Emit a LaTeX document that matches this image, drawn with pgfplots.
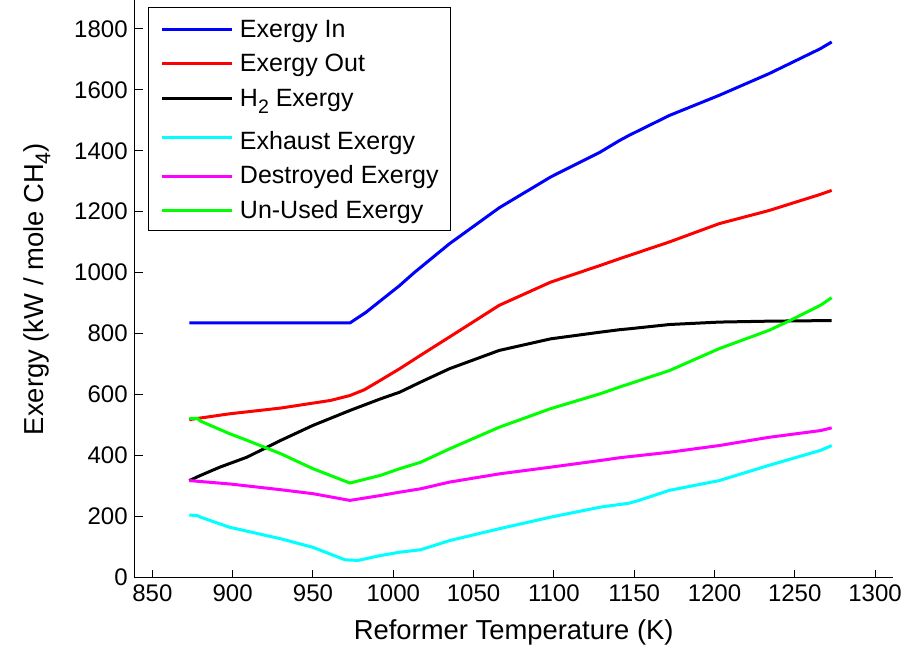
\documentclass[border=0pt]{standalone}
\usepackage{fontspec}
\setmainfont{Liberation Sans}
\usepackage{pgfplots}
\pgfplotsset{compat=1.18}

% subscript set lower and larger, as in the plotting tool's own labels
\newcommand{\lowsub}[1]{\raisebox{-0.5ex}{\fontsize{0.78\dimexpr\fontdimen6\font\relax}{10}\selectfont #1}}

% Exergy balance of the reformer versus temperature (K)
\pgfplotstableread{
T     val
873   835
973   835
983   870
1004  958
1013  1000
1035  1095
1066  1213
1098  1314
1129  1396
1141  1434
1147  1451
1172  1516
1203  1582
1234  1653
1266  1735
1273  1757
}\exin

\pgfplotstableread{
T     val
873   518
898   537
930   556
961   581
973   597
982   616
992   647
1004  685
1017  729
1035  789
1066  893
1098  969
1129  1024
1141  1046
1172  1101
1203  1161
1234  1204
1266  1257
1273  1270
}\exout

\pgfplotstableread{
T     val
873   318
880   335
892   362
909   395
930   450
950   499
973   548
992   586
1004  608
1017  641
1035  685
1066  745
1098  783
1129  805
1141  813
1147  816
1172  830
1203  838
1234  841
1273  843
}\hydrogen

\pgfplotstableread{
T     val
873   205
878   203
880   198
898   165
930   127
950   99
970   58
978   56
992   72
1004  83
1017  91
1035  121
1066  160
1098  198
1129  231
1147  244
1153  253
1172  286
1203  318
1234  368
1266  417
1273  433
}\exhaust

\pgfplotstableread{
T     val
873   318
898   307
930   288
950   275
973   253
992   269
1004  280
1017  291
1035  313
1066  340
1098  362
1129  384
1141  393
1172  411
1203  433
1234  460
1266  482
1273  491
}\destroyed

\pgfplotstableread{
T     val
873   522
878   522
880   513
898   472
909   450
930   406
950   357
973   310
992   335
1004  357
1017  378
1035  422
1066  493
1098  554
1129  603
1141  625
1172  679
1203  751
1234  811
1247  843
1266  893
1273  918
}\unused

\begin{document}
\begin{tikzpicture}
\begin{axis}[
  scale only axis,
  width=379pt, height=288.5pt,
  xmin=839, xmax=1311, ymin=0, ymax=1893,
  axis x line=bottom, axis y line=left,
  axis line style={-, line width=0.5pt, black},
  xtick={850,900,...,1300}, ytick={0,200,...,1800},
  tick align=inside, major tick length=4pt,
  tick style={line width=0.5pt, black},
  minor tick num=0,
  tick label style={font=\fontsize{12}{14}\selectfont},
  label style={font=\fontsize{13.7}{16}\selectfont},
  /pgf/number format/assume math mode=true,
  /pgf/number format/1000 sep={},
  xlabel={Reformer Temperature (K)},
  xlabel style={at={(rel axis cs:0.5,0)}, anchor=base, yshift=-31pt},
  ylabel={Exergy (kW / mole CH\lowsub{4})},
  ylabel style={at={(rel axis cs:0,0.5)}, anchor=south, inner sep=0pt, yshift=42pt},
  legend cell align=left,
  legend style={at={(0.0175,0.988)}, anchor=north west, draw=black, line width=0.5pt,
    font=\fontsize{12.5}{14}\selectfont, inner xsep=2.5pt, inner ysep=1.6pt,
    nodes={inner sep=3.25pt}},
  legend image code/.code={\path (0pt,0pt); \draw[#1] (3.5pt,0pt) -- (38.5pt,0pt);},
  every axis plot/.append style={line width=1.5pt},
]
\addplot[color={rgb,255:red,0;green,0;blue,255}] table[x=T, y=val] {\exin};
\addlegendentry{Exergy In\rule{0pt}{10pt}}
\addplot[color={rgb,255:red,255;green,0;blue,0}] table[x=T, y=val] {\exout};
\addlegendentry{Exergy Out}
\addplot[color=black] table[x=T, y=val] {\hydrogen};
\addlegendentry{H\lowsub{2} Exergy\rule[-7pt]{0pt}{16.8pt}}
\addplot[color={rgb,255:red,0;green,255;blue,255}] table[x=T, y=val] {\exhaust};
\addlegendentry{Exhaust Exergy\rule{0pt}{13.6pt}}
\addplot[color={rgb,255:red,255;green,0;blue,255}] table[x=T, y=val] {\destroyed};
\addlegendentry{Destroyed Exergy}
\addplot[color={rgb,255:red,0;green,255;blue,0}] table[x=T, y=val] {\unused};
\addlegendentry{Un-Used Exergy}
\end{axis}
\path[use as bounding box] ([shift={(-67.35pt,-34pt)}]current axis.south west)
  rectangle ([shift={(12.65pt,0pt)}]current axis.north east);
\end{tikzpicture}
\end{document}
